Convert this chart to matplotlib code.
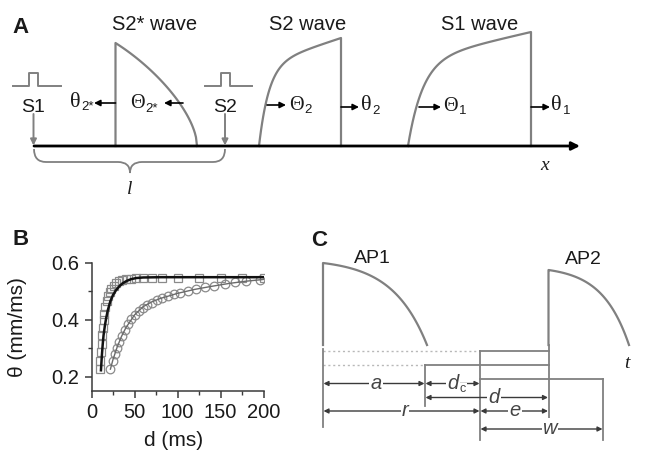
import numpy as np
import matplotlib
matplotlib.use("Agg")
import matplotlib.pyplot as plt
from matplotlib.path import Path
from matplotlib.patches import PathPatch

plt.rcParams['font.family'] = ['Liberation Sans', 'DejaVu Sans']
SERIF = ['Liberation Serif', 'DejaVu Serif']

GRAY = "#808080"
DARK = "#3a3a3a"
TXT = "#1a1a1a"

# --- panel B: conduction velocity restitution (d in ms, theta in mm/ms) ---
sq_d = [9.5, 10.3, 11.0, 11.7, 12.4, 13.2, 14.0, 15.0, 16.2, 17.6, 19.2, 21.0,
        23.2, 25.8, 28.8, 32.2, 36.0, 40.5, 45.5, 52, 60, 70, 82, 100, 125,
        150, 175, 200]
sq_theta = [0.228, 0.255, 0.285, 0.315, 0.345, 0.372, 0.398, 0.422, 0.445,
            0.465, 0.482, 0.497, 0.510, 0.520, 0.528, 0.535, 0.540, 0.543,
            0.545, 0.546, 0.547, 0.547, 0.548, 0.548, 0.548, 0.548, 0.548,
            0.548]
sq_fit_d = [11, 12, 13, 14, 15.5, 17, 19, 22, 25, 28, 32, 36, 41, 46, 52, 60,
            80, 120, 200]
sq_fit_theta = [0.222, 0.272, 0.312, 0.345, 0.378, 0.405, 0.434, 0.466, 0.487,
                0.502, 0.517, 0.528, 0.537, 0.543, 0.547, 0.549, 0.550, 0.550,
                0.550]

ci_d = [22, 24.5, 27, 29.5, 32, 35, 38.5, 42, 46, 50, 55, 60, 65, 70, 76, 82,
        89, 96, 103, 112, 122, 132, 143, 155, 167, 180, 196]
ci_theta = [0.228, 0.255, 0.280, 0.300, 0.322, 0.343, 0.365, 0.385, 0.403,
            0.418, 0.432, 0.443, 0.452, 0.460, 0.468, 0.475, 0.483, 0.490,
            0.496, 0.502, 0.508, 0.514, 0.520, 0.526, 0.532, 0.537, 0.541]
ci_fit_d = [22, 25, 30, 35, 40, 50, 60, 70, 80, 100, 120, 140, 160, 180, 200]
ci_fit_theta = [0.226, 0.260, 0.305, 0.342, 0.372, 0.417, 0.446, 0.463, 0.475,
                0.493, 0.507, 0.518, 0.528, 0.536, 0.542]

fig = plt.figure(figsize=(6.51, 4.55), dpi=100)
ax = fig.add_axes([0, 0, 1, 1])
ax.set_xlim(0, 651)
ax.set_ylim(455, 0)
ax.axis("off")
renderer = fig.canvas.get_renderer()


def arrow(x0, y0, x1, y1, color="black", lw=1.2, style="-|>", ms=9):
    ax.annotate("", xy=(x1, y1), xytext=(x0, y0),
                arrowprops=dict(arrowstyle=style, color=color, lw=lw,
                                mutation_scale=ms, shrinkA=0, shrinkB=0))


def greek(x, y, ch, sub):
    # glyph in serif, subscript tucked against its right edge
    size = 16 if ch == "θ" else 14.5
    t = ax.text(x, y, ch, family=SERIF, fontsize=size, color=TXT,
                ha="left", va="baseline")
    right = t.get_window_extent(renderer).x1
    ax.text(right + 0.5, y + 3.5, sub, fontsize=9.5, color=TXT,
            ha="left", va="baseline")


def falling(x0, x1, top, base, mode="wave"):
    u = np.linspace(0, 1, 80)
    if mode == "ap":
        drop = (np.exp(3 * u) - 1) / (np.exp(3) - 1)
    else:
        drop = 0.5 * u + 0.5 * (1 - np.sqrt(1 - u ** 2))
    return x0 + (x1 - x0) * u, top + (base - top) * drop


def rising(x0, x1, top, base):
    u = np.linspace(0, 1, 80)
    h = 0.75 * (1 - np.exp(-u / 0.12)) + 0.25 * u
    h = h / h[-1]
    return x0 + (x1 - x0) * u, base - (base - top) * h


# ================= panel A =================
BASE_A = 146
ax.text(12, 33, "A", fontsize=16, fontweight="bold", color=TXT)
arrow(34, BASE_A, 580, BASE_A, lw=2.0, ms=12)
ax.text(545, 166, "x", family=SERIF, style="italic", fontsize=14,
        ha="center", va="center", color=TXT)

# S2* wave (travelling backwards)
xs, ys = falling(115.5, 197, 43, BASE_A)
ax.plot([115.5, 115.5] + list(xs), [BASE_A, 43] + list(ys), color=GRAY, lw=1.6)
# S2 wave
xs, ys = rising(259, 341, 38, BASE_A)
ax.plot(list(xs) + [341, 341], list(ys) + [38, BASE_A], color=GRAY, lw=1.6)
# S1 wave
xs, ys = rising(408, 531, 32, BASE_A)
ax.plot(list(xs) + [531, 531], list(ys) + [32, BASE_A], color=GRAY, lw=1.6)

ax.text(155, 30, "S2* wave", fontsize=14.5, ha="center", color=TXT)
ax.text(308, 30, "S2 wave", fontsize=14.5, ha="center", color=TXT)
ax.text(480, 30, "S1 wave", fontsize=14.5, ha="center", color=TXT)

# stimuli
for x0, lbl in [(33.5, "S1"), (225, "S2")]:
    ax.plot([x0 - 20.5, x0 - 4.5, x0 - 4.5, x0 + 4.5, x0 + 4.5, x0 + 27],
            [86, 86, 73, 73, 86, 86], color=GRAY, lw=1.4)
    ax.text(x0, 112.5, lbl, fontsize=14, ha="center", color=TXT)
    arrow(x0, 114, x0, BASE_A - 0.5, color=GRAY, lw=1.4, ms=9)

# velocity arrows
arrow(115.5, 103, 94, 103)
greek(70, 107, "θ", "2*")
arrow(183, 103, 164, 103)
greek(130, 108, "Θ", "2*")
arrow(267, 105, 286, 105)
greek(289.5, 109.5, "Θ", "2")
arrow(341, 107, 359, 107)
greek(361, 110.5, "θ", "2")
arrow(419, 107, 441, 107)
greek(443.5, 111, "Θ", "1")
arrow(531, 107, 550, 107)
greek(551.5, 110.5, "θ", "1")

# brace for the S1-S2 distance
bx0, bx1, tip = 34, 225, 130
verts = [(bx0, 149), (bx0, 162), (bx0 + 12, 162), (tip - 12, 162),
         (tip, 162), (tip, 173), (tip, 162), (tip + 12, 162),
         (bx1 - 12, 162), (bx1, 162), (bx1, 149)]
codes = [Path.MOVETO, Path.CURVE3, Path.CURVE3, Path.LINETO, Path.CURVE3,
         Path.CURVE3, Path.CURVE3, Path.CURVE3, Path.LINETO, Path.CURVE3,
         Path.CURVE3]
ax.add_patch(PathPatch(Path(verts, codes), fill=False, edgecolor=GRAY, lw=1.3))
ax.text(tip, 190, "l", family=SERIF, style="italic", fontsize=14,
        ha="center", va="center", color=TXT)

# ================= panel B =================
ax.text(12, 245, "B", fontsize=16, fontweight="bold", color=TXT)
bx = fig.add_axes([91.5 / 651, (455 - 391) / 455, 172 / 651, 128 / 455])
bx.patch.set_alpha(0)
bx.plot(sq_d, sq_theta, "s", mfc="none", mec="#8a8a8a", ms=5.4, mew=0.9)
bx.plot(ci_d, ci_theta, "o", mfc="none", mec="#8a8a8a", ms=6.2, mew=0.9)
bx.plot(ci_fit_d, ci_fit_theta, "-", color="#6a6a6a", lw=1.0)
bx.plot(sq_fit_d, sq_fit_theta, "-", color="#111111", lw=1.8)
bx.set_xlim(0, 200)
bx.set_ylim(0.149, 0.6)
bx.set_xticks([0, 50, 100, 150, 200])
bx.set_xticks([25, 75, 125, 175], minor=True)
bx.set_yticks([0.2, 0.4, 0.6])
bx.set_yticks([0.3, 0.5], minor=True)
bx.set_yticklabels(["0.2", "0.4", "0.6"])
bx.spines[["top", "right"]].set_visible(False)
for s in ["left", "bottom"]:
    bx.spines[s].set_color(DARK)
    bx.spines[s].set_linewidth(1.1)
bx.tick_params(which="major", length=5, width=1.1, color=DARK,
               labelsize=14.5, pad=4, labelcolor=TXT)
bx.tick_params(which="minor", length=3, width=1.0, color=DARK)
bx.set_xlabel("d (ms)", fontsize=15, color=TXT)
bx.xaxis.set_label_coords(0.477, -0.31)
bx.set_ylabel("θ (mm/ms)", fontsize=15, color=TXT)
bx.yaxis.set_label_coords(-0.375, 0.5)

# ================= panel C =================
BASE_C = 345
ax.text(311, 246, "C", fontsize=16, fontweight="bold", color=TXT)
arrow(309, BASE_C, 652, BASE_C, lw=2.0, ms=12)
ax.text(627, 363, "t", family=SERIF, style="italic", fontsize=14,
        ha="center", va="center", color=TXT)

# interval boundaries: AP1 onset, AP1 end, r end, AP2 onset, w end, AP2 end
t_ap1, t_a, t_r, t_ap2, t_w, t_end2 = 323, 425, 480, 548.5, 603, 629

xs, ys = falling(t_ap1, t_a + 2, 263, BASE_C, mode="ap")
ax.plot([t_ap1, t_ap1] + list(xs), [BASE_C, 263] + list(ys), color=GRAY, lw=1.6)
xs, ys = falling(t_ap2, t_end2, 270, BASE_C, mode="ap")
ax.plot([t_ap2, t_ap2] + list(xs), [BASE_C, 270] + list(ys), color=GRAY, lw=1.6)
ax.text(372, 263, "AP1", fontsize=14, ha="center", color=TXT)
ax.text(583, 264, "AP2", fontsize=14, ha="center", color=TXT)

# guide lines
ax.plot([t_ap1, t_r], [351, 351], ls=(0, (1.5, 2)), color="#b8b8b8", lw=1)
ax.plot([t_ap1, t_a], [365, 365], ls=(0, (1.5, 2)), color="#b8b8b8", lw=1)
ax.plot([t_ap1, t_ap1], [349, 427], color=GRAY, lw=1.3)
ax.plot([t_a, t_a], [365, 406], color=GRAY, lw=1.3)
ax.plot([t_r, t_r], [351, 440], color=GRAY, lw=1.3)
ax.plot([t_ap2, t_ap2], [BASE_C, 420], color=GRAY, lw=1.3)
ax.plot([t_w, t_w], [379, 440], color=GRAY, lw=1.3)
ax.plot([t_r, t_ap2], [351, 351], color=GRAY, lw=1.3)
ax.plot([t_a, t_ap2], [365, 365], color=GRAY, lw=1.3)
ax.plot([t_r, t_w], [379, 379], color=GRAY, lw=1.3)

spans = [(t_ap1, t_a, 383.5, "a", None, 376),
         (t_a, t_r, 383.5, "d", "c", 453),
         (t_a, t_ap2, 397.5, "d", None, 494),
         (t_ap1, t_r, 411, "r", None, 405),
         (t_r, t_ap2, 411, "e", None, 515),
         (t_r, t_w, 429, "w", None, 550)]
for x0, x1, y, lbl, sub, xl in spans:
    arrow(x0 + 0.5, y, x1 - 0.5, y, color=DARK, lw=1.0, style="<|-|>", ms=7)
    ax.text(xl, y, lbl, style="italic", fontsize=14.5, ha="center",
            va="center", color="#444444",
            bbox=dict(boxstyle="square,pad=0.05", fc="white", ec="none"))
    if sub:
        ax.text(xl + 7, y + 6, sub, fontsize=9, ha="left", va="center",
                color="#444444",
                bbox=dict(boxstyle="square,pad=0.02", fc="white", ec="none"))

fig.savefig("out.png", dpi=100)
